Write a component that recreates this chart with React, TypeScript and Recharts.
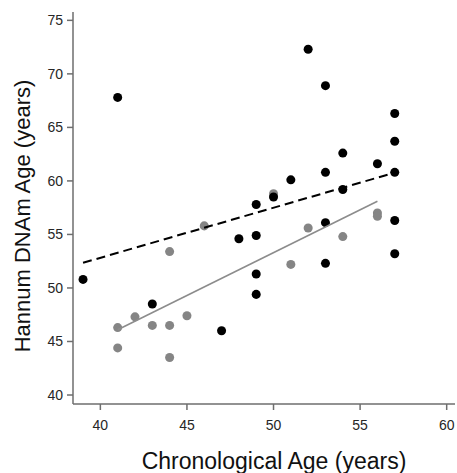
import { ScatterChart, Scatter, XAxis, YAxis, ZAxis } from 'recharts';

// black group (upper) and grey group (lower)
const blackPoints = [
  { x: 39, y: 50.8 },
  { x: 41, y: 67.8 },
  { x: 43, y: 48.5 },
  { x: 47, y: 46.0 },
  { x: 48, y: 54.6 },
  { x: 49, y: 57.8 },
  { x: 49, y: 54.9 },
  { x: 49, y: 51.3 },
  { x: 49, y: 49.4 },
  { x: 50, y: 58.5 },
  { x: 51, y: 60.1 },
  { x: 52, y: 72.3 },
  { x: 53, y: 68.9 },
  { x: 53, y: 60.8 },
  { x: 53, y: 56.1 },
  { x: 53, y: 52.3 },
  { x: 54, y: 62.6 },
  { x: 54, y: 59.2 },
  { x: 56, y: 61.6 },
  { x: 57, y: 66.3 },
  { x: 57, y: 63.7 },
  { x: 57, y: 60.8 },
  { x: 57, y: 56.3 },
  { x: 57, y: 53.2 },
];

const greyPoints = [
  { x: 41, y: 46.3 },
  { x: 41, y: 44.4 },
  { x: 42, y: 47.3 },
  { x: 43, y: 46.5 },
  { x: 44, y: 53.4 },
  { x: 44, y: 46.5 },
  { x: 44, y: 43.5 },
  { x: 45, y: 47.4 },
  { x: 46, y: 55.8 },
  { x: 50, y: 58.8 },
  { x: 51, y: 52.2 },
  { x: 52, y: 55.6 },
  { x: 54, y: 54.8 },
  { x: 56, y: 57.0 },
  { x: 56, y: 56.7 },
];

// fitted lines (end points)
const blackFit = [
  { x: 39, y: 52.35 },
  { x: 57, y: 60.77 },
];
const greyFit = [
  { x: 41, y: 46.1 },
  { x: 56, y: 58.1 },
];

const xTicks = [40, 45, 50, 55, 60];
const yTicks = [40, 45, 50, 55, 60, 65, 70, 75];

const AXIS = '#6e6e6e';
const noDot = () => <g />;

export default function App() {
  return (
    <div style={{ position: 'absolute', left: 0, top: 0 }}>
      <ScatterChart
        width={457}
        height={473}
        margin={{ top: 12, right: 2, left: 0, bottom: 0 }}
        style={{ fontFamily: '"Liberation Sans", Arial, sans-serif', background: '#fff' }}
      >
        <XAxis
          type="number"
          dataKey="x"
          domain={[38.42, 60.48]}
          ticks={xTicks}
          allowDataOverflow
          height={69}
          tickSize={6}
          tickMargin={10}
          stroke={AXIS}
          strokeWidth={1.5}
          tick={{ fill: '#262626', fontSize: 14 }}
          label={{
            value: 'Chronological Age (years)',
            position: 'insideBottom',
            offset: 4,
            dx: 10,
            style: { fontSize: 23, fill: '#111' },
          }}
        />
        <YAxis
          type="number"
          dataKey="y"
          domain={[39.16, 75.78]}
          ticks={yTicks}
          allowDataOverflow
          width={73}
          tickSize={6}
          tickMargin={4}
          stroke={AXIS}
          strokeWidth={1.5}
          tick={{ fill: '#262626', fontSize: 14 }}
          label={{
            value: 'Hannum DNAm Age (years)',
            angle: -90,
            position: 'insideLeft',
            offset: 22,
            dy: 8,
            style: { fontSize: 22, fill: '#111', textAnchor: 'middle' },
          }}
        />
        <ZAxis range={[52, 52]} />
        <Scatter data={greyPoints} fill="#858585" isAnimationActive={false} />
        <Scatter data={blackPoints} fill="#000000" isAnimationActive={false} />
        <Scatter
          data={greyFit}
          shape={noDot}
          line={{ stroke: '#8c8c8c', strokeWidth: 1.6 }}
          lineType="joint"
          isAnimationActive={false}
        />
        <Scatter
          data={blackFit}
          shape={noDot}
          line={{ stroke: '#000', strokeWidth: 2, strokeDasharray: '9 5' }}
          lineType="joint"
          isAnimationActive={false}
        />
      </ScatterChart>
    </div>
  );
}
